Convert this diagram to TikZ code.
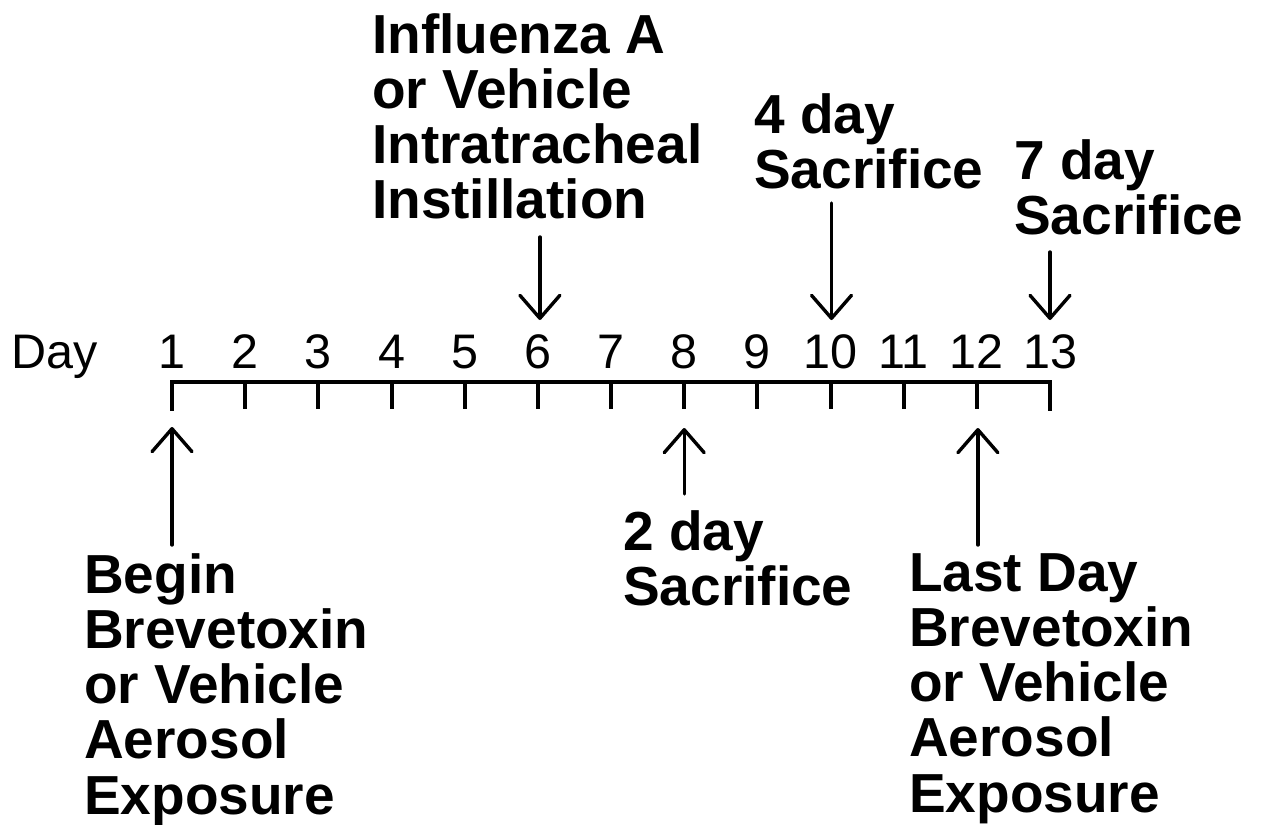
\documentclass[tikz,border=0pt]{standalone}
\usepackage{fontspec}
\setmainfont{Liberation Sans}
\usetikzlibrary{arrows.meta}
\begin{document}
\begin{tikzpicture}[x=1pt,y=-1pt,
  lbl/.style={inner sep=0pt,anchor=north west,align=left,font=\fontsize{55}{55.3}\selectfont\bfseries},
  daynum/.style={inner sep=0pt,anchor=base,font=\fontsize{48.5}{50}\selectfont},
  evarrow/.style={line width=3.4pt,line cap=round,-{Straight Barb[length=23pt,width=40pt,line cap=round,line join=round]}},
  axis/.style={line width=4pt,line join=miter,line cap=rect}]
\useasboundingbox (0,0) rectangle (1267,825);
% axis
\foreach \i in {1,...,13}{
  \coordinate (t\i) at ({172+(\i-1)*73.17},382);
  \coordinate (b\i) at ({172+(\i-1)*73.17},409);
  \node[daynum] (n\i) at ({172+(\i-1)*73.17},368) {\i};
}
\node[daynum,anchor=base west] (day) at (11,368) {Day};
\draw[axis] (b1) -- (t1) -- (t13) -- (b13);
\foreach \i in {2,...,12}{ \draw[line width=4pt] (t\i) -- (b\i); }
% labels
\node[lbl] (infl) at (372,13) {Influenza A\\or Vehicle\\Intratracheal\\Instillation};
\node[lbl] (four) at (754,93) {4 day\\Sacrifice};
\node[lbl] (seven) at (1014,139) {7 day\\Sacrifice};
\node[lbl] (two) at (623,510) {2 day\\Sacrifice};
\node[lbl] (begin) at (84,553) {Begin\\Brevetoxin\\or Vehicle\\Aerosol\\Exposure};
\node[lbl] (last) at (909,553) {Last Day\\Brevetoxin\\or Vehicle\\Aerosol\\Exposure};
% arrow endpoints
\coordinate (a6s) at (539.9,237); \coordinate (a6e) at (539.9,320);
\coordinate (a10s) at (831.5,203); \coordinate (a10e) at (831.5,320);
\coordinate (a13s) at (1050,252); \coordinate (a13e) at (1050,320);
\coordinate (a1s) at (172,545); \coordinate (a1e) at (172,427);
\coordinate (a8s) at (684.2,494); \coordinate (a8e) at (684.2,428);
\coordinate (a12s) at (977.9,545); \coordinate (a12e) at (977.9,428);
\draw[evarrow] (a6s) -- (a6e);
\draw[evarrow] (a10s) -- (a10e);
\draw[evarrow] (a13s) -- (a13e);
\draw[evarrow] (a1s) -- (a1e);
\draw[evarrow] (a8s) -- (a8e);
\draw[evarrow] (a12s) -- (a12e);
\end{tikzpicture}
\end{document}
